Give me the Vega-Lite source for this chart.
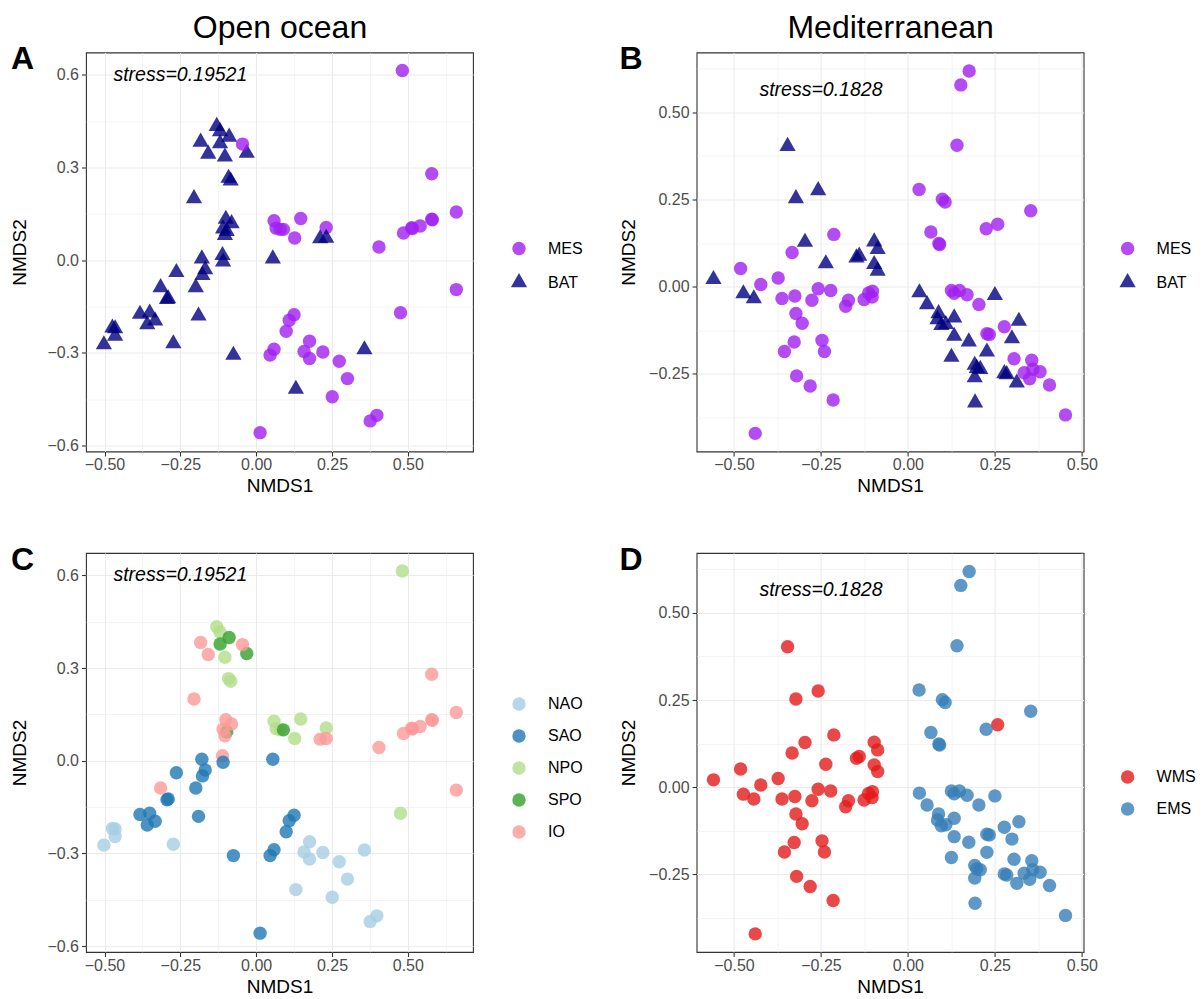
{
  "$schema": "https://vega.github.io/schema/vega-lite/v6.json",
  "background": "white",
  "padding": {"left": 10, "top": 9.5, "right": 5, "bottom": 5},
  "datasets": {
    "ocean": [
      {"x": -0.130, "y": 0.434, "depth": "BAT", "region": "NPO"},
      {"x": -0.119, "y": 0.417, "depth": "BAT", "region": "NPO"},
      {"x": -0.103, "y": 0.335, "depth": "BAT", "region": "NPO"},
      {"x": -0.091, "y": 0.266, "depth": "BAT", "region": "NPO"},
      {"x": -0.084, "y": 0.257, "depth": "BAT", "region": "NPO"},
      {"x": 0.059, "y": 0.128, "depth": "MES", "region": "NPO"},
      {"x": 0.066, "y": 0.104, "depth": "MES", "region": "NPO"},
      {"x": 0.079, "y": 0.100, "depth": "MES", "region": "NPO"},
      {"x": 0.147, "y": 0.135, "depth": "MES", "region": "NPO"},
      {"x": 0.127, "y": 0.072, "depth": "MES", "region": "NPO"},
      {"x": 0.231, "y": 0.106, "depth": "MES", "region": "NPO"},
      {"x": 0.482, "y": 0.614, "depth": "MES", "region": "NPO"},
      {"x": 0.476, "y": -0.170, "depth": "MES", "region": "NPO"},
      {"x": -0.119, "y": 0.378, "depth": "BAT", "region": "SPO"},
      {"x": -0.089, "y": 0.399, "depth": "BAT", "region": "SPO"},
      {"x": -0.031, "y": 0.347, "depth": "BAT", "region": "SPO"},
      {"x": -0.097, "y": 0.094, "depth": "BAT", "region": "SPO"},
      {"x": 0.090, "y": 0.100, "depth": "MES", "region": "SPO"},
      {"x": -0.183, "y": 0.383, "depth": "BAT", "region": "IO"},
      {"x": -0.158, "y": 0.344, "depth": "BAT", "region": "IO"},
      {"x": -0.045, "y": 0.376, "depth": "MES", "region": "IO"},
      {"x": -0.205, "y": 0.200, "depth": "BAT", "region": "IO"},
      {"x": -0.100, "y": 0.133, "depth": "BAT", "region": "IO"},
      {"x": -0.081, "y": 0.119, "depth": "BAT", "region": "IO"},
      {"x": -0.109, "y": 0.102, "depth": "BAT", "region": "IO"},
      {"x": -0.103, "y": 0.081, "depth": "BAT", "region": "IO"},
      {"x": -0.111, "y": 0.016, "depth": "BAT", "region": "IO"},
      {"x": -0.315, "y": -0.088, "depth": "BAT", "region": "IO"},
      {"x": 0.211, "y": 0.070, "depth": "BAT", "region": "IO"},
      {"x": 0.231, "y": 0.072, "depth": "BAT", "region": "IO"},
      {"x": 0.405, "y": 0.043, "depth": "MES", "region": "IO"},
      {"x": 0.486, "y": 0.088, "depth": "MES", "region": "IO"},
      {"x": 0.513, "y": 0.105, "depth": "MES", "region": "IO"},
      {"x": 0.515, "y": 0.103, "depth": "MES", "region": "IO"},
      {"x": 0.541, "y": 0.111, "depth": "MES", "region": "IO"},
      {"x": 0.579, "y": 0.133, "depth": "MES", "region": "IO"},
      {"x": 0.581, "y": 0.131, "depth": "MES", "region": "IO"},
      {"x": 0.579, "y": 0.280, "depth": "MES", "region": "IO"},
      {"x": 0.660, "y": 0.156, "depth": "MES", "region": "IO"},
      {"x": 0.660, "y": -0.095, "depth": "MES", "region": "IO"},
      {"x": -0.179, "y": 0.005, "depth": "BAT", "region": "SAO"},
      {"x": -0.109, "y": -0.005, "depth": "BAT", "region": "SAO"},
      {"x": 0.055, "y": 0.005, "depth": "BAT", "region": "SAO"},
      {"x": -0.263, "y": -0.039, "depth": "BAT", "region": "SAO"},
      {"x": -0.168, "y": -0.030, "depth": "BAT", "region": "SAO"},
      {"x": -0.177, "y": -0.049, "depth": "BAT", "region": "SAO"},
      {"x": -0.199, "y": -0.088, "depth": "BAT", "region": "SAO"},
      {"x": -0.290, "y": -0.124, "depth": "BAT", "region": "SAO"},
      {"x": -0.294, "y": -0.126, "depth": "BAT", "region": "SAO"},
      {"x": -0.190, "y": -0.180, "depth": "BAT", "region": "SAO"},
      {"x": -0.383, "y": -0.174, "depth": "BAT", "region": "SAO"},
      {"x": -0.351, "y": -0.170, "depth": "BAT", "region": "SAO"},
      {"x": -0.359, "y": -0.208, "depth": "BAT", "region": "SAO"},
      {"x": -0.333, "y": -0.196, "depth": "BAT", "region": "SAO"},
      {"x": -0.075, "y": -0.307, "depth": "BAT", "region": "SAO"},
      {"x": 0.046, "y": -0.307, "depth": "MES", "region": "SAO"},
      {"x": 0.059, "y": -0.288, "depth": "MES", "region": "SAO"},
      {"x": 0.013, "y": -0.558, "depth": "MES", "region": "SAO"},
      {"x": 0.125, "y": -0.176, "depth": "MES", "region": "SAO"},
      {"x": 0.109, "y": -0.194, "depth": "MES", "region": "SAO"},
      {"x": 0.099, "y": -0.230, "depth": "MES", "region": "SAO"},
      {"x": -0.474, "y": -0.219, "depth": "BAT", "region": "NAO"},
      {"x": -0.465, "y": -0.221, "depth": "BAT", "region": "NAO"},
      {"x": -0.465, "y": -0.245, "depth": "BAT", "region": "NAO"},
      {"x": -0.502, "y": -0.273, "depth": "BAT", "region": "NAO"},
      {"x": -0.273, "y": -0.270, "depth": "BAT", "region": "NAO"},
      {"x": 0.176, "y": -0.262, "depth": "MES", "region": "NAO"},
      {"x": 0.158, "y": -0.295, "depth": "MES", "region": "NAO"},
      {"x": 0.176, "y": -0.318, "depth": "MES", "region": "NAO"},
      {"x": 0.220, "y": -0.297, "depth": "MES", "region": "NAO"},
      {"x": 0.357, "y": -0.289, "depth": "BAT", "region": "NAO"},
      {"x": 0.274, "y": -0.327, "depth": "MES", "region": "NAO"},
      {"x": 0.301, "y": -0.383, "depth": "MES", "region": "NAO"},
      {"x": 0.131, "y": -0.417, "depth": "BAT", "region": "NAO"},
      {"x": 0.251, "y": -0.442, "depth": "MES", "region": "NAO"},
      {"x": 0.376, "y": -0.520, "depth": "MES", "region": "NAO"},
      {"x": 0.398, "y": -0.502, "depth": "MES", "region": "NAO"}
    ],
    "med": [
      {"x": -0.346, "y": 0.403, "depth": "BAT", "basin": "WMS"},
      {"x": -0.258, "y": 0.276, "depth": "BAT", "basin": "WMS"},
      {"x": -0.322, "y": 0.253, "depth": "BAT", "basin": "WMS"},
      {"x": -0.213, "y": 0.150, "depth": "MES", "basin": "WMS"},
      {"x": -0.296, "y": 0.128, "depth": "BAT", "basin": "WMS"},
      {"x": -0.333, "y": 0.098, "depth": "MES", "basin": "WMS"},
      {"x": -0.236, "y": 0.066, "depth": "BAT", "basin": "WMS"},
      {"x": -0.148, "y": 0.083, "depth": "BAT", "basin": "WMS"},
      {"x": -0.140, "y": 0.088, "depth": "BAT", "basin": "WMS"},
      {"x": -0.097, "y": 0.129, "depth": "BAT", "basin": "WMS"},
      {"x": -0.087, "y": 0.107, "depth": "BAT", "basin": "WMS"},
      {"x": -0.097, "y": 0.064, "depth": "BAT", "basin": "WMS"},
      {"x": -0.087, "y": 0.045, "depth": "BAT", "basin": "WMS"},
      {"x": -0.559, "y": 0.021, "depth": "BAT", "basin": "WMS"},
      {"x": -0.481, "y": 0.052, "depth": "MES", "basin": "WMS"},
      {"x": -0.473, "y": -0.020, "depth": "BAT", "basin": "WMS"},
      {"x": -0.443, "y": -0.034, "depth": "BAT", "basin": "WMS"},
      {"x": -0.423, "y": 0.006, "depth": "MES", "basin": "WMS"},
      {"x": -0.373, "y": 0.025, "depth": "MES", "basin": "WMS"},
      {"x": -0.362, "y": -0.034, "depth": "MES", "basin": "WMS"},
      {"x": -0.325, "y": -0.027, "depth": "MES", "basin": "WMS"},
      {"x": -0.322, "y": -0.077, "depth": "MES", "basin": "WMS"},
      {"x": -0.304, "y": -0.105, "depth": "MES", "basin": "WMS"},
      {"x": -0.276, "y": -0.039, "depth": "MES", "basin": "WMS"},
      {"x": -0.258, "y": -0.006, "depth": "MES", "basin": "WMS"},
      {"x": -0.222, "y": -0.011, "depth": "MES", "basin": "WMS"},
      {"x": -0.179, "y": -0.056, "depth": "MES", "basin": "WMS"},
      {"x": -0.171, "y": -0.039, "depth": "MES", "basin": "WMS"},
      {"x": -0.126, "y": -0.037, "depth": "MES", "basin": "WMS"},
      {"x": -0.113, "y": -0.018, "depth": "MES", "basin": "WMS"},
      {"x": -0.102, "y": -0.013, "depth": "MES", "basin": "WMS"},
      {"x": -0.103, "y": -0.030, "depth": "MES", "basin": "WMS"},
      {"x": -0.327, "y": -0.159, "depth": "MES", "basin": "WMS"},
      {"x": -0.355, "y": -0.186, "depth": "MES", "basin": "WMS"},
      {"x": -0.247, "y": -0.154, "depth": "MES", "basin": "WMS"},
      {"x": -0.240, "y": -0.186, "depth": "MES", "basin": "WMS"},
      {"x": -0.320, "y": -0.256, "depth": "MES", "basin": "WMS"},
      {"x": -0.281, "y": -0.285, "depth": "MES", "basin": "WMS"},
      {"x": -0.215, "y": -0.325, "depth": "MES", "basin": "WMS"},
      {"x": -0.439, "y": -0.421, "depth": "MES", "basin": "WMS"},
      {"x": 0.258, "y": 0.179, "depth": "MES", "basin": "WMS"},
      {"x": 0.176, "y": 0.619, "depth": "MES", "basin": "EMS"},
      {"x": 0.152, "y": 0.579, "depth": "MES", "basin": "EMS"},
      {"x": 0.141, "y": 0.406, "depth": "MES", "basin": "EMS"},
      {"x": 0.032, "y": 0.279, "depth": "MES", "basin": "EMS"},
      {"x": 0.099, "y": 0.251, "depth": "MES", "basin": "EMS"},
      {"x": 0.107, "y": 0.243, "depth": "MES", "basin": "EMS"},
      {"x": 0.353, "y": 0.218, "depth": "MES", "basin": "EMS"},
      {"x": 0.225, "y": 0.166, "depth": "MES", "basin": "EMS"},
      {"x": 0.066, "y": 0.157, "depth": "MES", "basin": "EMS"},
      {"x": 0.089, "y": 0.124, "depth": "MES", "basin": "EMS"},
      {"x": 0.091, "y": 0.121, "depth": "MES", "basin": "EMS"},
      {"x": 0.033, "y": -0.017, "depth": "BAT", "basin": "EMS"},
      {"x": 0.055, "y": -0.051, "depth": "BAT", "basin": "EMS"},
      {"x": 0.125, "y": -0.011, "depth": "MES", "basin": "EMS"},
      {"x": 0.133, "y": -0.019, "depth": "MES", "basin": "EMS"},
      {"x": 0.148, "y": -0.011, "depth": "MES", "basin": "EMS"},
      {"x": 0.170, "y": -0.023, "depth": "MES", "basin": "EMS"},
      {"x": 0.204, "y": -0.051, "depth": "MES", "basin": "EMS"},
      {"x": 0.250, "y": -0.025, "depth": "BAT", "basin": "EMS"},
      {"x": 0.088, "y": -0.077, "depth": "BAT", "basin": "EMS"},
      {"x": 0.085, "y": -0.094, "depth": "BAT", "basin": "EMS"},
      {"x": 0.096, "y": -0.111, "depth": "BAT", "basin": "EMS"},
      {"x": 0.109, "y": -0.108, "depth": "BAT", "basin": "EMS"},
      {"x": 0.133, "y": -0.089, "depth": "BAT", "basin": "EMS"},
      {"x": 0.133, "y": -0.142, "depth": "BAT", "basin": "EMS"},
      {"x": 0.175, "y": -0.158, "depth": "BAT", "basin": "EMS"},
      {"x": 0.125, "y": -0.202, "depth": "BAT", "basin": "EMS"},
      {"x": 0.227, "y": -0.135, "depth": "MES", "basin": "EMS"},
      {"x": 0.234, "y": -0.137, "depth": "MES", "basin": "EMS"},
      {"x": 0.277, "y": -0.115, "depth": "MES", "basin": "EMS"},
      {"x": 0.319, "y": -0.099, "depth": "BAT", "basin": "EMS"},
      {"x": 0.299, "y": -0.149, "depth": "BAT", "basin": "EMS"},
      {"x": 0.227, "y": -0.187, "depth": "BAT", "basin": "EMS"},
      {"x": 0.192, "y": -0.225, "depth": "BAT", "basin": "EMS"},
      {"x": 0.198, "y": -0.234, "depth": "BAT", "basin": "EMS"},
      {"x": 0.208, "y": -0.237, "depth": "BAT", "basin": "EMS"},
      {"x": 0.192, "y": -0.261, "depth": "BAT", "basin": "EMS"},
      {"x": 0.193, "y": -0.333, "depth": "BAT", "basin": "EMS"},
      {"x": 0.305, "y": -0.207, "depth": "MES", "basin": "EMS"},
      {"x": 0.277, "y": -0.249, "depth": "BAT", "basin": "EMS"},
      {"x": 0.284, "y": -0.252, "depth": "BAT", "basin": "EMS"},
      {"x": 0.313, "y": -0.276, "depth": "BAT", "basin": "EMS"},
      {"x": 0.356, "y": -0.211, "depth": "MES", "basin": "EMS"},
      {"x": 0.334, "y": -0.247, "depth": "MES", "basin": "EMS"},
      {"x": 0.359, "y": -0.237, "depth": "MES", "basin": "EMS"},
      {"x": 0.350, "y": -0.264, "depth": "MES", "basin": "EMS"},
      {"x": 0.380, "y": -0.244, "depth": "MES", "basin": "EMS"},
      {"x": 0.407, "y": -0.282, "depth": "MES", "basin": "EMS"},
      {"x": 0.453, "y": -0.368, "depth": "MES", "basin": "EMS"}
    ]
  },
  "columns": 2,
  "bounds": "flush",
  "spacing": {"row": 101.5, "column": 223.6},
  "resolve": {"scale": {"color": "independent", "shape": "independent"}},
  "concat": [
    {
      "title": {"text": "A", "anchor": "start", "frame": "bounds", "fontSize": 32, "fontWeight": "bold", "color": "black", "dy": 68.5},
      "width": 387, "height": 399,
      "resolve": {"axis": {"x": "independent"}},
      "layer": [
        {
          "data": {"name": "ocean"},
          "mark": {"type": "point", "filled": true, "opacity": 0.8, "size": 180, "strokeWidth": 0},
          "encoding": {
            "x": {"field": "x", "type": "quantitative", "scale": {"domain": [-0.561, 0.715], "nice": false, "zero": false},
              "axis": {"orient": "bottom", "title": "NMDS1", "titlePadding": 4, "values": [-0.5, -0.375, -0.25, -0.125, 0, 0.125, 0.25, 0.375, 0.5, 0.625],
                "labelExpr": "abs(datum.value*4-round(datum.value*4))<1e-6 ? format(datum.value,'.2f') : ''",
                "tickOpacity": {"condition": {"test": "abs(datum.value*4-round(datum.value*4))<1e-6", "value": 1}, "value": 0},
                "gridWidth": {"condition": {"test": "abs(datum.value*4-round(datum.value*4))<1e-6", "value": 1.1}, "value": 0.55}}},
            "y": {"field": "y", "type": "quantitative", "scale": {"domain": [-0.619, 0.6725], "nice": false, "zero": false},
              "axis": {"title": "NMDS2", "titlePadding": 17, "labelPadding": 3, "values": [-0.6, -0.45, -0.3, -0.15, 0, 0.15, 0.3, 0.45, 0.6],
                "labelExpr": "abs(datum.value/0.3-round(datum.value/0.3))<1e-6 ? format(datum.value,'.1f') : ''",
                "tickOpacity": {"condition": {"test": "abs(datum.value/0.3-round(datum.value/0.3))<1e-6", "value": 1}, "value": 0},
                "gridWidth": {"condition": {"test": "abs(datum.value/0.3-round(datum.value/0.3))<1e-6", "value": 1.1}, "value": 0.55}}},
            "color": {"field": "depth", "type": "nominal", "scale": {"domain": ["MES", "BAT"], "range": ["#A020F0", "#000080"]},
              "legend": {"title": null, "orient": "none", "legendX": 425, "legendY": 188}},
            "shape": {"field": "depth", "type": "nominal", "scale": {"domain": ["MES", "BAT"], "range": ["circle", "M0,-1.4L1.21,0.7L-1.21,0.7Z"]},
              "legend": {"title": null, "orient": "none", "legendX": 425, "legendY": 188}}
          }
        },
        {
          "data": {"values": [{"x": -0.25, "y": 0.6, "label": "stress=0.19521"}]},
          "mark": {"type": "text", "fontStyle": "italic", "fontSize": 19.5, "color": "black"},
          "encoding": {
            "x": {"field": "x", "type": "quantitative",
              "axis": {"orient": "top", "title": "Open ocean", "titleFontSize": 32, "titlePadding": 8.5, "labels": false, "ticks": false, "grid": false, "domain": false}},
            "y": {"field": "y", "type": "quantitative"},
            "text": {"field": "label"}
          }
        }
      ]
    },
    {
      "title": {"text": "B", "anchor": "start", "frame": "bounds", "fontSize": 32, "fontWeight": "bold", "color": "black", "dy": 68.5},
      "width": 387, "height": 399,
      "resolve": {"axis": {"x": "independent"}},
      "layer": [
        {
          "data": {"name": "med"},
          "mark": {"type": "point", "filled": true, "opacity": 0.8, "size": 180, "strokeWidth": 0},
          "encoding": {
            "x": {"field": "x", "type": "quantitative", "scale": {"domain": [-0.6075, 0.505], "nice": false, "zero": false},
              "axis": {"orient": "bottom", "title": "NMDS1", "titlePadding": 4, "values": [-0.5, -0.375, -0.25, -0.125, 0, 0.125, 0.25, 0.375, 0.5],
                "labelExpr": "abs(datum.value*4-round(datum.value*4))<1e-6 ? format(datum.value,'.2f') : ''",
                "tickOpacity": {"condition": {"test": "abs(datum.value*4-round(datum.value*4))<1e-6", "value": 1}, "value": 0},
                "gridWidth": {"condition": {"test": "abs(datum.value*4-round(datum.value*4))<1e-6", "value": 1.1}, "value": 0.55}}},
            "y": {"field": "y", "type": "quantitative", "scale": {"domain": [-0.473, 0.672], "nice": false, "zero": false},
              "axis": {"title": "NMDS2", "titlePadding": 10, "labelPadding": 3, "values": [-0.375, -0.25, -0.125, 0, 0.125, 0.25, 0.375, 0.5, 0.625],
                "labelExpr": "abs(datum.value*4-round(datum.value*4))<1e-6 ? format(datum.value,'.2f') : ''",
                "tickOpacity": {"condition": {"test": "abs(datum.value*4-round(datum.value*4))<1e-6", "value": 1}, "value": 0},
                "gridWidth": {"condition": {"test": "abs(datum.value*4-round(datum.value*4))<1e-6", "value": 1.1}, "value": 0.55}}},
            "color": {"field": "depth", "type": "nominal", "scale": {"domain": ["MES", "BAT"], "range": ["#A020F0", "#000080"]},
              "legend": {"title": null, "orient": "none", "legendX": 423, "legendY": 188}},
            "shape": {"field": "depth", "type": "nominal", "scale": {"domain": ["MES", "BAT"], "range": ["circle", "M0,-1.4L1.21,0.7L-1.21,0.7Z"]},
              "legend": {"title": null, "orient": "none", "legendX": 423, "legendY": 188}}
          }
        },
        {
          "data": {"values": [{"x": -0.25, "y": 0.565, "label": "stress=0.1828"}]},
          "mark": {"type": "text", "fontStyle": "italic", "fontSize": 19.5, "color": "black"},
          "encoding": {
            "x": {"field": "x", "type": "quantitative",
              "axis": {"orient": "top", "title": "Mediterranean", "titleFontSize": 32, "titlePadding": 8.5, "labels": false, "ticks": false, "grid": false, "domain": false}},
            "y": {"field": "y", "type": "quantitative"},
            "text": {"field": "label"}
          }
        }
      ]
    },
    {
      "title": {"text": "C", "anchor": "start", "frame": "bounds", "fontSize": 32, "fontWeight": "bold", "color": "black", "dy": 28},
      "width": 387, "height": 399,
      "layer": [
        {
          "data": {"name": "ocean"},
          "mark": {"type": "point", "filled": true, "opacity": 0.8, "size": 180, "strokeWidth": 0, "shape": "circle"},
          "encoding": {
            "x": {"field": "x", "type": "quantitative", "scale": {"domain": [-0.561, 0.715], "nice": false, "zero": false},
              "axis": {"orient": "bottom", "title": "NMDS1", "titlePadding": 4, "values": [-0.5, -0.375, -0.25, -0.125, 0, 0.125, 0.25, 0.375, 0.5, 0.625],
                "labelExpr": "abs(datum.value*4-round(datum.value*4))<1e-6 ? format(datum.value,'.2f') : ''",
                "tickOpacity": {"condition": {"test": "abs(datum.value*4-round(datum.value*4))<1e-6", "value": 1}, "value": 0},
                "gridWidth": {"condition": {"test": "abs(datum.value*4-round(datum.value*4))<1e-6", "value": 1.1}, "value": 0.55}}},
            "y": {"field": "y", "type": "quantitative", "scale": {"domain": [-0.619, 0.6725], "nice": false, "zero": false},
              "axis": {"title": "NMDS2", "titlePadding": 17, "labelPadding": 3, "values": [-0.6, -0.45, -0.3, -0.15, 0, 0.15, 0.3, 0.45, 0.6],
                "labelExpr": "abs(datum.value/0.3-round(datum.value/0.3))<1e-6 ? format(datum.value,'.1f') : ''",
                "tickOpacity": {"condition": {"test": "abs(datum.value/0.3-round(datum.value/0.3))<1e-6", "value": 1}, "value": 0},
                "gridWidth": {"condition": {"test": "abs(datum.value/0.3-round(datum.value/0.3))<1e-6", "value": 1.1}, "value": 0.55}}},
            "color": {"field": "region", "type": "nominal", "scale": {"domain": ["NAO", "SAO", "NPO", "SPO", "IO"], "range": ["#A6CEE3", "#1F78B4", "#B2DF8A", "#33A02C", "#FB9A99"]},
              "legend": {"title": null, "orient": "none", "legendX": 425, "legendY": 143, "symbolType": "circle"}}
          }
        },
        {
          "data": {"values": [{"x": -0.25, "y": 0.6, "label": "stress=0.19521"}]},
          "mark": {"type": "text", "fontStyle": "italic", "fontSize": 19.5, "color": "black"},
          "encoding": {
            "x": {"field": "x", "type": "quantitative"},
            "y": {"field": "y", "type": "quantitative"},
            "text": {"field": "label"}
          }
        }
      ]
    },
    {
      "title": {"text": "D", "anchor": "start", "frame": "bounds", "fontSize": 32, "fontWeight": "bold", "color": "black", "dy": 28},
      "width": 387, "height": 399,
      "layer": [
        {
          "data": {"name": "med"},
          "mark": {"type": "point", "filled": true, "opacity": 0.8, "size": 180, "strokeWidth": 0, "shape": "circle"},
          "encoding": {
            "x": {"field": "x", "type": "quantitative", "scale": {"domain": [-0.6075, 0.505], "nice": false, "zero": false},
              "axis": {"orient": "bottom", "title": "NMDS1", "titlePadding": 4, "values": [-0.5, -0.375, -0.25, -0.125, 0, 0.125, 0.25, 0.375, 0.5],
                "labelExpr": "abs(datum.value*4-round(datum.value*4))<1e-6 ? format(datum.value,'.2f') : ''",
                "tickOpacity": {"condition": {"test": "abs(datum.value*4-round(datum.value*4))<1e-6", "value": 1}, "value": 0},
                "gridWidth": {"condition": {"test": "abs(datum.value*4-round(datum.value*4))<1e-6", "value": 1.1}, "value": 0.55}}},
            "y": {"field": "y", "type": "quantitative", "scale": {"domain": [-0.473, 0.672], "nice": false, "zero": false},
              "axis": {"title": "NMDS2", "titlePadding": 10, "labelPadding": 3, "values": [-0.375, -0.25, -0.125, 0, 0.125, 0.25, 0.375, 0.5, 0.625],
                "labelExpr": "abs(datum.value*4-round(datum.value*4))<1e-6 ? format(datum.value,'.2f') : ''",
                "tickOpacity": {"condition": {"test": "abs(datum.value*4-round(datum.value*4))<1e-6", "value": 1}, "value": 0},
                "gridWidth": {"condition": {"test": "abs(datum.value*4-round(datum.value*4))<1e-6", "value": 1.1}, "value": 0.55}}},
            "color": {"field": "basin", "type": "nominal", "scale": {"domain": ["WMS", "EMS"], "range": ["#E41A1C", "#377EB8"]},
              "legend": {"title": null, "orient": "none", "legendX": 423, "legendY": 216, "symbolType": "circle"}}
          }
        },
        {
          "data": {"values": [{"x": -0.25, "y": 0.565, "label": "stress=0.1828"}]},
          "mark": {"type": "text", "fontStyle": "italic", "fontSize": 19.5, "color": "black"},
          "encoding": {
            "x": {"field": "x", "type": "quantitative"},
            "y": {"field": "y", "type": "quantitative"},
            "text": {"field": "label"}
          }
        }
      ]
    }
  ],
  "config": {
    "font": "Liberation Sans",
    "view": {"stroke": "#333333", "strokeWidth": 1.1},
    "axis": {"domain": false, "tickColor": "#333333", "tickSize": 4.5, "tickWidth": 1.1, "labelPadding": 0.5, "labelColor": "#4D4D4D", "labelFontSize": 16, "labelFlush": false, "labelOverlap": false, "titleFontSize": 19, "titleFontWeight": "normal", "titleColor": "black", "gridColor": "#EBEBEB"},
    "legend": {"labelFontSize": 16, "labelColor": "black", "symbolSize": 180, "rowPadding": 16, "labelOffset": 21, "symbolStrokeWidth": 0},
    "title": {"fontWeight": "bold", "color": "black"}
  }
}
